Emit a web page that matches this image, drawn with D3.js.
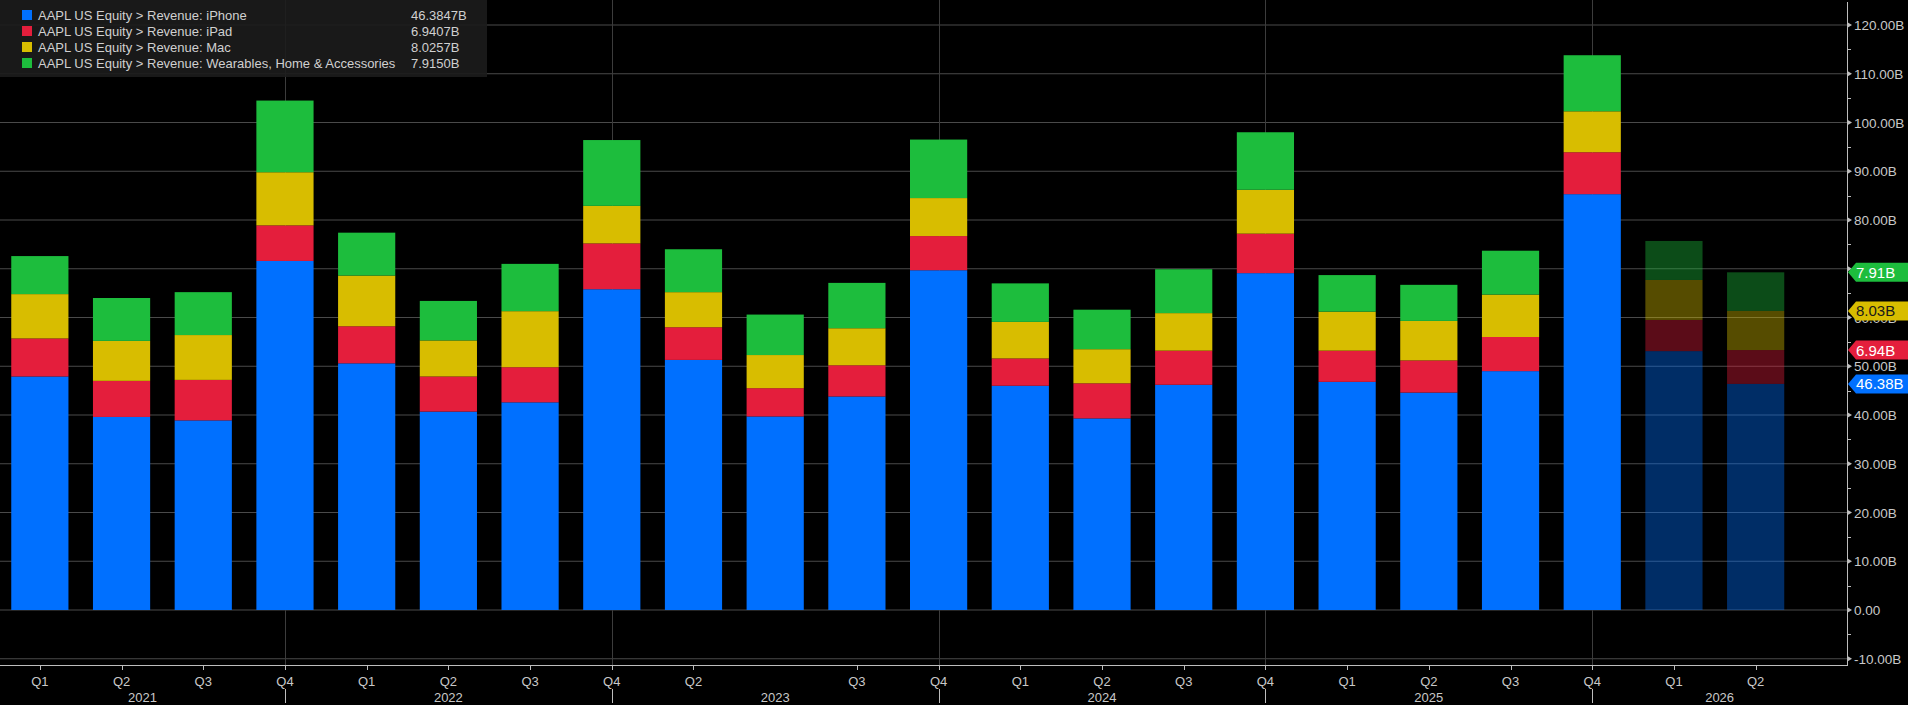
<!DOCTYPE html>
<html>
<head>
<meta charset="utf-8">
<script src="https://cdn.jsdelivr.net/npm/d3@7"></script>
<style>
  html, body { margin: 0; padding: 0; background: #000; }
  svg { display: block; font-family: "Liberation Sans", Roboto, sans-serif; }
</style>
</head>
<body>
<div id="chart"></div>
<script>
// quarter labels under each bar ('' = no label drawn)
const quarterLabels = ['Q1', 'Q2', 'Q3', 'Q4', 'Q1', 'Q2', 'Q3', 'Q4', 'Q2', '', 'Q3', 'Q4',
  'Q1', 'Q2', 'Q3', 'Q4', 'Q1', 'Q2', 'Q3', 'Q4', 'Q1', 'Q2'];
const yearLabels = ['2021', '2022', '2023', '2024', '2025', '2026'];
// bar index holding each year separator
const yearBreaks = [3, 7, 11, 15, 19];
// last two bars are estimates
const estimateFrom = 20;

// revenue in billions
const iphone = [47.9, 39.6, 38.9, 71.6, 50.6, 40.7, 42.6, 65.8, 51.3, 39.7, 43.8, 69.7,
  46.0, 39.3, 46.2, 69.1, 46.8, 44.6, 49.0, 85.3, 53.1, 46.38];
const ipad = [7.8, 7.4, 8.3, 7.3, 7.6, 7.2, 7.2, 9.4, 6.7, 5.8, 6.4, 7.0,
  5.6, 7.2, 7.0, 8.1, 6.4, 6.6, 7.0, 8.6, 6.4, 6.94];
const mac = [9.1, 8.2, 9.2, 10.9, 10.4, 7.4, 11.5, 7.7, 7.2, 6.8, 7.6, 7.8,
  7.5, 7.0, 7.7, 9.0, 8.0, 8.1, 8.7, 8.4, 8.2, 8.03];
const wearables = [7.8, 8.8, 8.8, 14.7, 8.8, 8.1, 9.7, 13.5, 8.8, 8.3, 9.3, 12.0,
  7.9, 8.1, 9.0, 11.8, 7.5, 7.4, 9.0, 11.5, 8.0, 7.92];

const seriesKeys = ['iphone', 'ipad', 'mac', 'wearables'];
const seriesNames = [
  'AAPL US Equity > Revenue: iPhone',
  'AAPL US Equity > Revenue: iPad',
  'AAPL US Equity > Revenue: Mac',
  'AAPL US Equity > Revenue: Wearables, Home & Accessories',
];
const legendValues = ['46.3847B', '6.9407B', '8.0257B', '7.9150B'];
const tagValues = ['46.38B', '6.94B', '8.03B', '7.91B'];
const colors = ['#0070ff', '#e41e3c', '#d8bd00', '#1dbd3d'];
const tagText = ['#fff', '#fff', '#1a1a1a', '#fff'];
const yTicks = d3.range(-10, 121, 10);

const WIDTH = 1908;
const HEIGHT = 705;
const PLOT_RIGHT = 1847;
const PLOT_TOP = 2;
const PLOT_BOTTOM = 665;

const rows = iphone.map((d, i) => ({
  i, iphone: d, ipad: ipad[i], mac: mac[i], wearables: wearables[i],
}));

const svg = d3.select('#chart').append('svg')
  .attr('width', WIDTH)
  .attr('height', HEIGHT);

const x = d3.scaleBand()
  .domain(rows.map((d) => d.i))
  .range([-1, 1796.5])
  .paddingInner(0.3)
  .paddingOuter(0.15);
const xc = (i) => x(i) + x.bandwidth() / 2;

const y = d3.scaleLinear().domain([-10, 120]).range([658.75, 25]);

// horizontal grid
svg.append('g')
  .selectAll('line')
  .data(yTicks)
  .join('line')
  .attr('x1', 0)
  .attr('x2', PLOT_RIGHT)
  .attr('y1', (d) => y(d))
  .attr('y2', (d) => y(d))
  .attr('stroke', '#4a4a4a')
  .attr('stroke-width', 1);

// year separators
svg.append('g')
  .selectAll('line')
  .data(yearBreaks)
  .join('line')
  .attr('x1', (d) => Math.round(xc(d)) + 0.5)
  .attr('x2', (d) => Math.round(xc(d)) + 0.5)
  .attr('y1', 0)
  .attr('y2', PLOT_BOTTOM)
  .attr('stroke', '#3c3c3c');

// stacked bars
const stacked = d3.stack().keys(seriesKeys)(rows);
svg.append('g')
  .selectAll('g')
  .data(stacked)
  .join('g')
  .attr('fill', (d, k) => colors[k])
  .selectAll('rect')
  .data((d) => d)
  .join('rect')
  .attr('x', (d) => x(d.data.i))
  .attr('width', x.bandwidth())
  .attr('y', (d) => y(d[1]))
  .attr('height', (d) => y(d[0]) - y(d[1]))
  .attr('fill-opacity', (d) => (d.data.i >= estimateFrom ? 0.4 : 1));

// bottom axis line
svg.append('line')
  .attr('x1', 0).attr('x2', PLOT_RIGHT)
  .attr('y1', PLOT_BOTTOM + 0.5).attr('y2', PLOT_BOTTOM + 0.5)
  .attr('stroke', '#bdbdbd');

// right axis line
svg.append('line')
  .attr('x1', PLOT_RIGHT + 0.5).attr('x2', PLOT_RIGHT + 0.5)
  .attr('y1', PLOT_TOP).attr('y2', PLOT_BOTTOM + 1)
  .attr('stroke', '#bdbdbd');

// quarter ticks and labels
const labelled = rows.filter((d) => quarterLabels[d.i] !== '');
const xAxis = svg.append('g');
xAxis.selectAll('line')
  .data(labelled)
  .join('line')
  .attr('x1', (d) => Math.round(xc(d.i)) + 0.5)
  .attr('x2', (d) => Math.round(xc(d.i)) + 0.5)
  .attr('y1', PLOT_BOTTOM)
  .attr('y2', PLOT_BOTTOM + 5)
  .attr('stroke', '#bdbdbd');
xAxis.selectAll('text')
  .data(labelled)
  .join('text')
  .attr('x', (d) => xc(d.i))
  .attr('y', 686)
  .attr('text-anchor', 'middle')
  .attr('fill', '#c8c8c8')
  .style('font-size', '13px')
  .text((d) => quarterLabels[d.i]);

// year labels between separators
const bounds = [0, ...yearBreaks.map(xc), PLOT_RIGHT];
svg.append('g')
  .selectAll('text')
  .data(yearLabels)
  .join('text')
  .attr('x', (d, k) => (bounds[k] + bounds[k + 1]) / 2)
  .attr('y', 702)
  .attr('text-anchor', 'middle')
  .attr('fill', '#c8c8c8')
  .style('font-size', '13px')
  .text((d) => d);
svg.append('g')
  .selectAll('line')
  .data(yearBreaks)
  .join('line')
  .attr('x1', (d) => Math.round(xc(d)) + 0.5)
  .attr('x2', (d) => Math.round(xc(d)) + 0.5)
  .attr('y1', 689)
  .attr('y2', 703)
  .attr('stroke', '#bdbdbd');

// right axis ticks and labels
const yAxis = svg.append('g');
yAxis.selectAll('line')
  .data(d3.range(-5, 125, 10))
  .join('line')
  .attr('x1', PLOT_RIGHT)
  .attr('x2', PLOT_RIGHT + 4)
  .attr('y1', (d) => Math.round(y(d)) + 0.5)
  .attr('y2', (d) => Math.round(y(d)) + 0.5)
  .attr('stroke', '#bdbdbd');
yAxis.selectAll('path')
  .data(yTicks)
  .join('path')
  .attr('d', (d) => `M${PLOT_RIGHT},${y(d) - 3}L${PLOT_RIGHT + 5},${y(d)}L${PLOT_RIGHT},${y(d) + 3}Z`)
  .attr('fill', '#bdbdbd');
yAxis.selectAll('text')
  .data(yTicks)
  .join('text')
  .attr('x', 1854)
  .attr('y', (d) => y(d) + 5)
  .attr('fill', '#c8c8c8')
  .style('font-size', '13.5px')
  .text((d) => (d === 0 ? '0.00' : `${d.toFixed(2)}B`));

// last value tags on the right
const last = stacked.map((s) => s[s.length - 1][1]);
const tags = svg.append('g')
  .selectAll('g')
  .data(seriesKeys)
  .join('g')
  .attr('transform', (d, k) => `translate(${PLOT_RIGHT + 1},${y(last[k])})`);
tags.append('path')
  .attr('d', 'M0,0L8,-9.5L70,-9.5L70,9.5L8,9.5Z')
  .attr('fill', (d, k) => colors[k]);
tags.append('text')
  .attr('x', 8)
  .attr('y', 5.5)
  .attr('fill', (d, k) => tagText[k])
  .style('font-size', '15px')
  .text((d, k) => tagValues[k]);

// legend
const legend = svg.append('g');
legend.append('rect')
  .attr('x', 0).attr('y', 0)
  .attr('width', 487).attr('height', 77)
  .attr('fill', 'rgba(28,28,28,0.9)');
const legendRows = legend.selectAll('g.row')
  .data(seriesNames)
  .join('g')
  .attr('class', 'row')
  .attr('transform', (d, k) => `translate(0,${15 + k * 16})`);
legendRows.append('rect')
  .attr('x', 22).attr('y', -5)
  .attr('width', 10).attr('height', 10)
  .attr('fill', (d, k) => colors[k]);
legendRows.append('text')
  .attr('x', 38).attr('y', 4.5)
  .attr('fill', '#d0d0d0')
  .style('font-size', '13px')
  .text((d) => d);
legendRows.append('text')
  .attr('x', 411).attr('y', 4.5)
  .attr('fill', '#d0d0d0')
  .style('font-size', '13px')
  .text((d, k) => legendValues[k]);
</script>
</body>
</html>
